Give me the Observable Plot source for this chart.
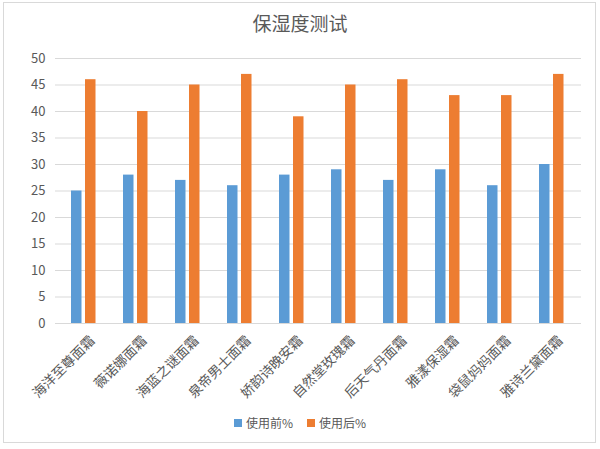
<!DOCTYPE html>
<html>
<head>
<meta charset="utf-8">
<script src="https://cdn.jsdelivr.net/npm/d3@7"></script>
<script src="https://cdn.jsdelivr.net/npm/@observablehq/plot@0.6"></script>
<style>
  html, body { margin: 0; padding: 0; background: #ffffff; }
  #wrap { position: relative; width: 600px; height: 449px; overflow: hidden; font-family: "Noto Sans CJK SC", "Noto Sans", sans-serif; }
  #frame { position: absolute; left: 3px; top: 2px; width: 593px; height: 441px; border: 1px solid #d9d9d9; box-sizing: border-box; }
  #title { position: absolute; left: 0; width: 600px; top: 9px; text-align: center; font-size: 19px; color: #595959; }
  #chart { position: absolute; left: 0; top: 0; }
  #legend { position: absolute; left: 0; width: 600px; top: 414px; display: flex; justify-content: center; gap: 14px; font-size: 12px; color: #595959; }
  .item { display: flex; align-items: center; gap: 4px; }
  .sw { width: 8px; height: 8px; display: inline-block; }
</style>
</head>
<body>
<div id="wrap">
  <div id="frame"></div>
  <div id="chart"></div>
  <div id="title">保湿度测试</div>
  <div id="legend"></div>
</div>
<script>
const categories = ["海洋至尊面霜", "薇诺娜面霜", "海蓝之谜面霜", "泉帝男士面霜", "娇韵诗晚安霜", "自然堂玫瑰霜", "后天气丹面霜", "雅漾保湿霜", "袋鼠妈妈面霜", "雅诗兰黛面霜"];
const before = [25, 28, 27, 26, 28, 29, 27, 29, 26, 30];
const after = [46, 40, 45, 47, 39, 45, 46, 43, 43, 47];
const seriesNames = ["使用前%", "使用后%"];
const colors = ["#5B9BD5", "#ED7D31"];
const yTicks = [0, 5, 10, 15, 20, 25, 30, 35, 40, 45, 50];

const rowsBefore = categories.map((c, i) => ({category: c, value: before[i]}));
const rowsAfter = categories.map((c, i) => ({category: c, value: after[i]}));

const chart = Plot.plot({
  width: 600,
  height: 405,
  marginTop: 58,
  marginBottom: 82,
  marginLeft: 55,
  marginRight: 19,
  style: {fontFamily: "'Noto Sans CJK SC', 'Noto Sans', sans-serif", color: "#595959", background: "transparent"},
  x: {domain: categories, padding: 0, label: null},
  y: {domain: [0, 50], ticks: yTicks, label: null},
  marks: [
    Plot.gridY(yTicks, {stroke: "#d9d9d9", strokeOpacity: 1, strokeWidth: 1}),
    Plot.barY(rowsBefore, {x: "category", y: "value", fill: colors[0], insetLeft: 13, insetRight: 28.5}),
    Plot.barY(rowsAfter, {x: "category", y: "value", fill: colors[1], insetLeft: 27, insetRight: 14.5}),
    Plot.axisY(yTicks, {tickSize: 0, tickPadding: 10, fontSize: 13, fill: "#595959"}),
    Plot.axisX({tickSize: 0, tickRotate: -45, tickPadding: 15, dx: 8, fontSize: 13.5, fill: "#595959"})
  ]
});
document.getElementById("chart").appendChild(chart);

const legend = document.getElementById("legend");
seriesNames.forEach((name, i) => {
  const item = document.createElement("div");
  item.className = "item";
  const sw = document.createElement("span");
  sw.className = "sw";
  sw.style.background = colors[i];
  const label = document.createElement("span");
  label.textContent = name;
  item.appendChild(sw);
  item.appendChild(label);
  legend.appendChild(item);
});
</script>
</body>
</html>
